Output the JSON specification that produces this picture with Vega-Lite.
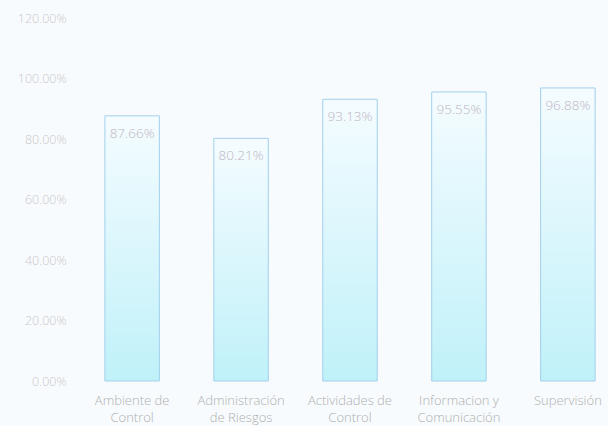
{
  "$schema": "https://vega.github.io/schema/vega-lite/v6.json",
  "autosize": "none",
  "width": 512,
  "height": 363,
  "padding": {"left": 94, "top": 18, "right": 2, "bottom": 45},
  "background": "#f7fbfd",
  "config": {"view": {"stroke": null}, "font": "Open Sans"},
  "data": {
    "values": [
      {"componente": "Ambiente de Control", "valor": 0.8766},
      {"componente": "Administración de Riesgos", "valor": 0.8021},
      {"componente": "Actividades de Control", "valor": 0.9313},
      {"componente": "Informacion y Comunicación", "valor": 0.9555},
      {"componente": "Supervisión", "valor": 0.9688}
    ]
  },
  "encoding": {
    "x": {
      "field": "componente",
      "type": "nominal",
      "sort": null,
      "scale": {"paddingInner": 0.5, "paddingOuter": 0.1},
      "axis": {
        "title": null,
        "domain": false,
        "ticks": false,
        "labelAngle": 0,
        "labelPadding": 13,
        "labelFontSize": 13,
        "labelFontWeight": 300,
        "labelColor": "#b0b0b0",
        "labelLineHeight": 17,
        "labelExpr": "datum.label == 'Ambiente de Control' ? ['Ambiente de', 'Control'] : datum.label == 'Administración de Riesgos' ? ['Administración', 'de Riesgos'] : datum.label == 'Actividades de Control' ? ['Actividades de', 'Control'] : datum.label == 'Informacion y Comunicación' ? ['Informacion y', 'Comunicación'] : datum.label"
      }
    },
    "y": {
      "field": "valor",
      "type": "quantitative",
      "scale": {"domain": [0, 1.2]},
      "axis": {
        "title": null,
        "domain": false,
        "ticks": false,
        "grid": false,
        "format": ".2%",
        "values": [0, 0.2, 0.4, 0.6, 0.8, 1.0, 1.2],
        "labelPadding": 28,
        "labelFontSize": 12.5,
        "labelFontWeight": 300,
        "labelColor": "#ccc8cc"
      }
    }
  },
  "layer": [
    {
      "mark": {
        "type": "bar",
        "stroke": "#a2d0ec",
        "strokeWidth": 1,
        "fill": {
          "gradient": "linear",
          "x1": 0, "y1": 0, "x2": 0, "y2": 1,
          "stops": [
            {"offset": 0, "color": "#f5fcff"},
            {"offset": 1, "color": "#c0f1f9"}
          ]
        }
      }
    },
    {
      "mark": {
        "type": "text",
        "baseline": "middle",
        "dy": 18,
        "fontSize": 13.5,
        "fontWeight": 300,
        "color": "#c0b4c2"
      },
      "encoding": {
        "text": {"field": "valor", "type": "quantitative", "format": ".2%"}
      }
    }
  ]
}
